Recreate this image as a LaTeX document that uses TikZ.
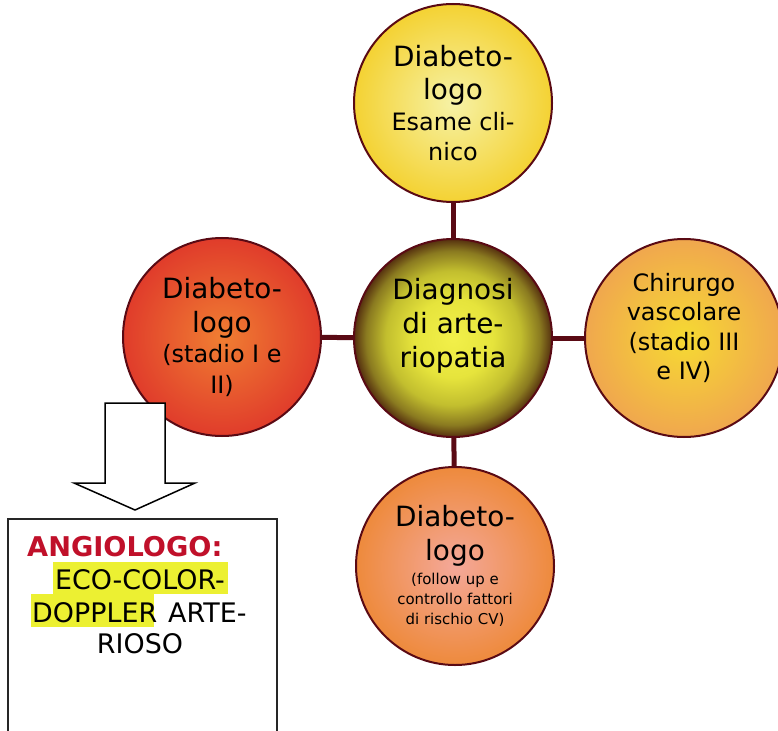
\documentclass[tikz,border=0pt]{standalone}
\usepackage{fontspec}
\setmainfont{DejaVu Sans}
\definecolor{rim}{HTML}{5A0A14}
\definecolor{angred}{HTML}{C0102A}
\definecolor{hilite}{HTML}{ECF032}
% radial fills of the five discs
\definecolor{topin}{HTML}{F6F2A6}\definecolor{topout}{HTML}{F4D233}
\definecolor{leftin}{HTML}{F07E32}\definecolor{leftout}{HTML}{E03C2B}
\definecolor{rightin}{HTML}{F6DA32}\definecolor{rightout}{HTML}{F0A74E}
\definecolor{botin}{HTML}{F4A89A}\definecolor{botout}{HTML}{EE8A3C}
\definecolor{cA}{HTML}{F2F04A}\definecolor{cB}{HTML}{E6E43C}
\definecolor{cC}{HTML}{C2BE2E}\definecolor{cD}{HTML}{8A7A20}
\definecolor{cE}{HTML}{55300F}
\pgfdeclareradialshading{hubshade}{\pgfpoint{0bp}{0bp}}{%
  color(0bp)=(cA); color(10bp)=(cB); color(17bp)=(cC); color(22bp)=(cD);
  color(25bp)=(cE); color(50bp)=(cE)}
\newcommand\bigtxt{\fontsize{28}{34}\selectfont}
\newcommand\midtxt{\fontsize{24}{29.5}\selectfont}
\newcommand\smalltxt{\fontsize{15}{20}\selectfont}
\begin{document}
\begin{tikzpicture}[x=1bp,y=-1bp,
  disc/.style={circle,draw=rim,line width=2bp,minimum size=198bp,inner sep=0pt},
  disctext/.style={align=center,text=black,font=\bigtxt,inner sep=0pt},
  link/.style={draw=rim,line width=5bp},
  blockarrow/.style={draw=black,line width=1.5bp,fill=white,line join=miter},
  frame/.style={draw=black!85,line width=1.5bp,fill=white},
  line/.style={anchor=base,inner sep=0pt,font=\fontsize{27}{31}\selectfont}]
\useasboundingbox (0,0) rectangle (778,731);
\clip (0,0) rectangle (778,731);

% hub and its four satellites
\node[disc,shading=hubshade,shade] (hub) at (453,338) {};
\node[disc,inner color=topin,outer color=topout] (top) at (453,103) {};
\node[disc,inner color=leftin,outer color=leftout] (left) at (222,337) {};
\node[disc,inner color=rightin,outer color=rightout] (right) at (684,338) {};
\node[disc,inner color=botin,outer color=botout] (bottom) at (455,566) {};

\node[disctext] (hubtxt) at (hub.center) [yshift=12bp]
  {Diagnosi\\di arte-\\riopatia};
\node[disctext] (toptxt) at (top.center)
  {Diabeto-\\logo\\[-3bp]\midtxt Esame cli-\\[-4bp]\midtxt nico};
\node[disctext] (lefttxt) at (left.center)
  {Diabeto-\\logo\\[-3bp]\midtxt (stadio I e\\[-3bp]\midtxt II)};
\node[disctext,font=\midtxt] (righttxt) at (right.center) [yshift=10bp]
  {Chirurgo\\vascolare\\(stadio III\\e IV)};
\node[disctext] (bottomtxt) at (bottom.center)
  {Diabeto-\\logo\\[-10bp]\smalltxt (follow up e\\[-14bp]\smalltxt controllo fattori\\[-14bp]\smalltxt di rischio CV)};

\draw[link] (top) -- (hub);
\draw[link] (left) -- (hub);
\draw[link] (hub) -- (right);
\draw[link] (hub) -- (bottom);

% block arrow down to the referral box
\draw[blockarrow] (105,403) -- (165,403) -- (165,483) -- (195,483) -- (135,510)
  -- (74,483) -- (105,483) -- cycle;

\node[frame,minimum width=269bp,minimum height=230bp,anchor=north west,inner sep=0pt]
  (box) at (7,518) {};
\fill[hilite] (53,562) rectangle (228,594);
\fill[hilite] (31,594) rectangle (154,627);
\node[line,anchor=base west,text=angred,font=\fontsize{27.3}{31}\selectfont\bfseries]
  (ang) at (27,556) {ANGIOLOGO:};
\node[line] (eco) at (140,589) {ECO-COLOR-};
\node[line,anchor=base west] (dop) at (32,622) {DOPPLER};
\node[line,anchor=base west] (arte) at (168,622) {ARTE-};
\node[line] (rioso) at (140,653) {RIOSO};
\end{tikzpicture}
\end{document}
